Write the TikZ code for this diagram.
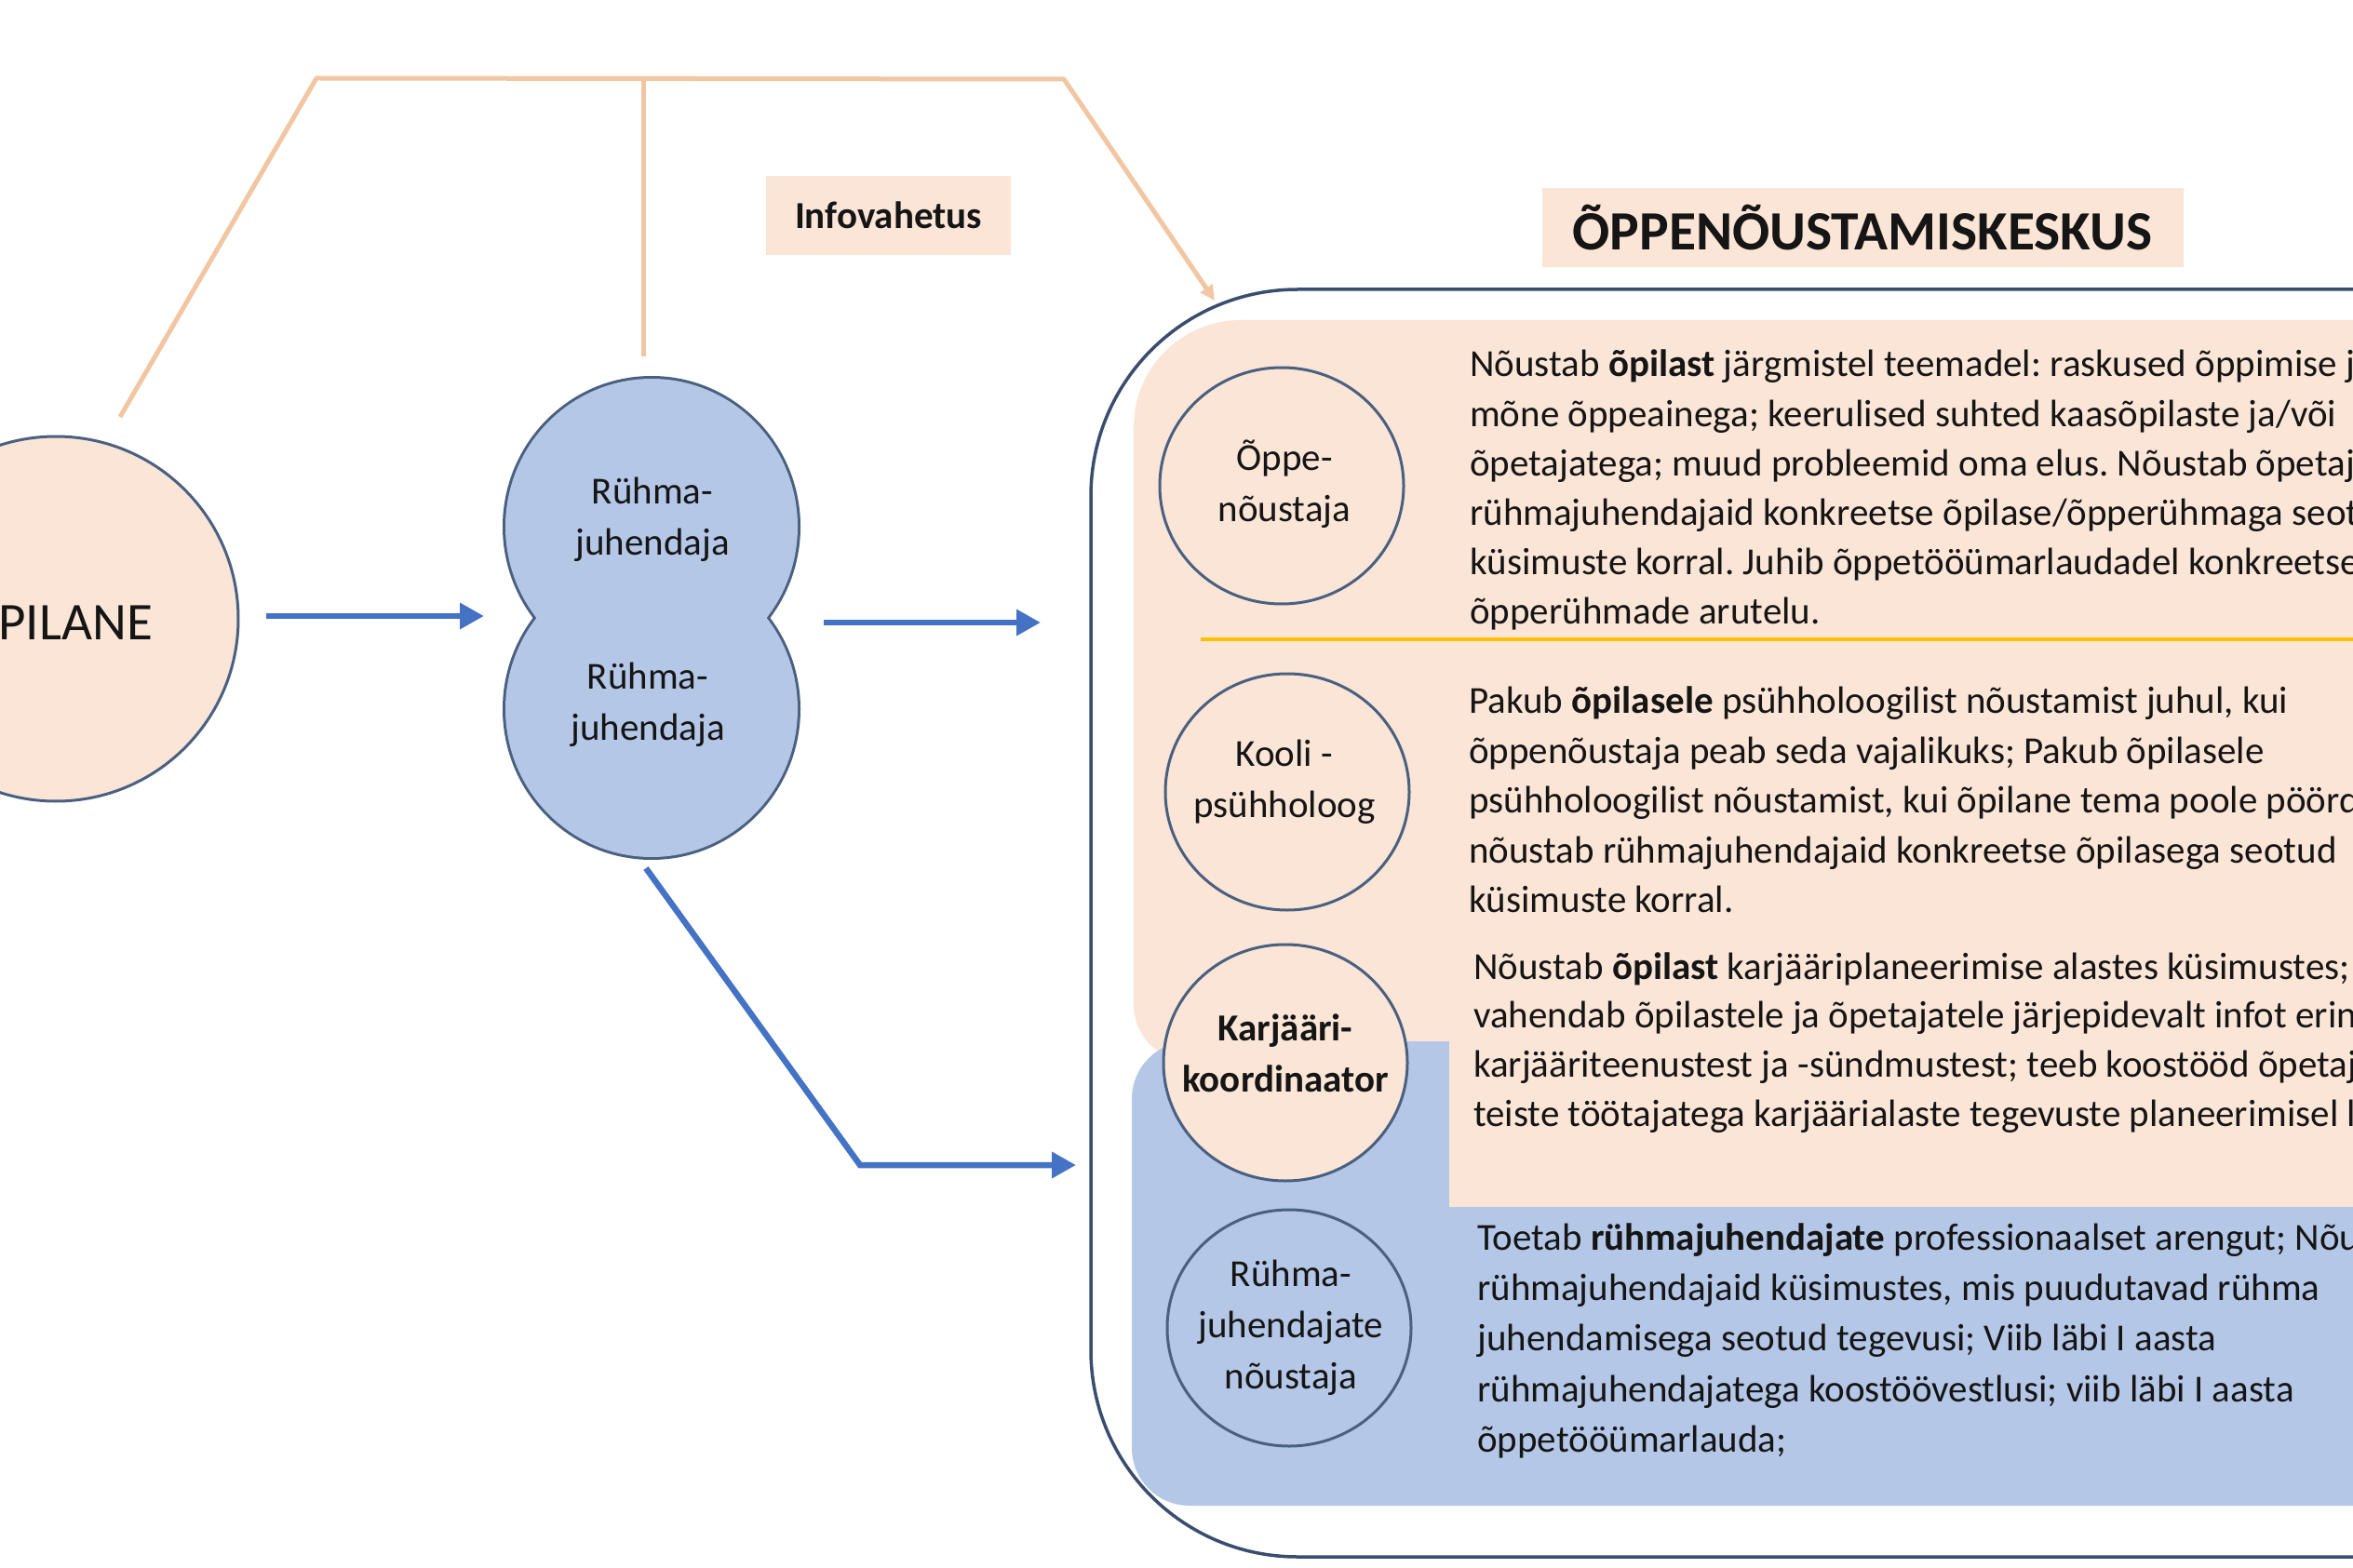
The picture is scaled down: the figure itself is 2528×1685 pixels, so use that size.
\documentclass[tikz,border=0pt]{standalone}
\usepackage{fontspec}
\setmainfont{Carlito}
\usetikzlibrary{shapes.geometric,arrows.meta}
\definecolor{tanfill}{HTML}{FBE5D6}
\definecolor{bluefill}{HTML}{B4C7E7}
\definecolor{outl}{HTML}{4A6080}
\definecolor{bigoutl}{HTML}{3A4D6E}
\definecolor{arrowblue}{HTML}{4472C4}
\definecolor{tanline}{HTML}{F2C6A2}
\definecolor{goldline}{HTML}{FFC000}
\definecolor{txt}{HTML}{151515}
\newcommand\myBody{\fontsize{41}{55}\selectfont}
\newcommand\myHead{\fontsize{59.5}{70}\selectfont\bfseries}
\newcommand\myPil{\fontsize{57}{68}\selectfont}
\frenchspacing
\begin{document}
\begin{tikzpicture}[x=1pt,y=-1pt,
  bluearrow/.style={draw=arrowblue, line width=6.5pt, -{Triangle[length=26pt,width=27pt]}},
  tanconn/.style={draw=tanline, line width=5pt},
  roundnode/.style={ellipse, draw=outl, line width=3pt, minimum width=262pt, minimum height=254pt, inner sep=0pt},
  circtext/.style={align=center, font=\myBody, text=txt, inner sep=0pt},
  rjout/.style={ellipse, draw=outl, line width=6pt, minimum width=314pt, minimum height=318pt, inner sep=0pt},
  rjfill/.style={ellipse, fill=bluefill, minimum width=314pt, minimum height=318pt, inner sep=0pt},
  bodyline/.style={anchor=base west, inner sep=0pt, font=\myBody, text=txt},
  tagbox/.style={rectangle, fill=tanfill, inner sep=0pt, text=txt}
]
\useasboundingbox (0,0) rectangle (2528,1685);
\clip (0,0) rectangle (2528,1685);
\fill[white] (0,0) rectangle (2528,1685);

% ---------- right panel backgrounds ----------
\fill[tanfill, rounded corners=115pt] (1218,344) rectangle (2700,900);
\fill[tanfill, rounded corners=60pt] (1218,700) rectangle (2700,1140);
\fill[bluefill, rounded corners=62pt] (1216,1119) rectangle (2700,1618);
\fill[tanfill] (1557,1000) rectangle (2700,1297);
\coordinate (ylS) at (1290,687);
\coordinate (ylE) at (2700,687);
\draw[goldline, line width=3.5pt] (ylS) -- (ylE);
\draw[bigoutl, line width=3.5pt, rounded corners=222pt] (2700,311) -- (1172,311) -- (1172,1673) -- (2700,1673);

% ---------- header boxes ----------
\node[tagbox, minimum width=689pt, minimum height=85pt, font=\myHead] (head) at (2001,244.5) {ÕPPENÕUSTAMISKESKUS};
\node[tagbox, minimum width=263pt, minimum height=85pt, font=\myBody\bfseries] (info) at (954.5,231.5) {Infovahetus};

% ---------- PILANE ----------
\node[circle, fill=tanfill, draw=outl, line width=3pt, minimum size=392pt, inner sep=0pt] (pil) at (60,665) {};
\node[anchor=base east, inner sep=0pt, font=\myPil, text=txt] (piltext) at (164,687) {ÕPILANE};

% ---------- Ruhmajuhendaja pair ----------
\node[rjout] (rj1o) at (700,566) {};
\node[rjout] (rj2o) at (700,762) {};
\node[rjfill] (rj1) at (700,566) {};
\node[rjfill] (rj2) at (700,762) {};
\node[circtext] (rj1t) at (701,558) {Rühma-\\juhendaja};
\node[circtext] (rj2t) at (696,757) {Rühma-\\juhendaja};

% ---------- circles in right panel ----------
\node[roundnode, fill=tanfill] (opn) at (1377,522) {};
\node[roundnode, fill=tanfill] (psy) at (1383,851) {};
\node[roundnode, fill=tanfill] (kar) at (1381,1142) {};
\node[roundnode, fill=bluefill] (rjn) at (1385,1427) {};
\node[circtext] (opnt) at (1380,520) {Õppe-\\nõustaja};
\node[circtext] (psyt) at (1380,840) {Kooli -\\psühholoog};
\node[circtext, font=\myBody\bfseries] (kart) at (1381,1132) {Karjääri-\\koordinaator};
\node[circtext] (rjnt) at (1387,1427) {Rühma-\\juhendajate\\nõustaja};

% ---------- body texts ----------
\node[bodyline] (t1a) at (1579,405) {Nõustab \textbf{õpilast} järgmistel teemadel: raskused õppimise ja};
\node[bodyline] (t1b) at (1579,458) {mõne õppeainega; keerulised suhted kaasõpilaste ja/või};
\node[bodyline] (t1c) at (1579,511) {õpetajatega; muud probleemid oma elus. Nõustab õpetajaid ja};
\node[bodyline] (t1d) at (1579,564) {rühmajuhendajaid konkreetse õpilase/õpperühmaga seotud};
\node[bodyline] (t1e) at (1579,617) {küsimuste korral. Juhib õppetööümarlaudadel konkreetse};
\node[bodyline] (t1f) at (1579,670) {õpperühmade arutelu.};

\node[bodyline] (t2a) at (1578,766) {Pakub \textbf{õpilasele} psühholoogilist nõustamist juhul, kui};
\node[bodyline] (t2b) at (1578,820) {õppenõustaja peab seda vajalikuks; Pakub õpilasele};
\node[bodyline] (t2c) at (1578,873) {psühholoogilist nõustamist, kui õpilane tema poole pöördub;};
\node[bodyline] (t2d) at (1578,927) {nõustab rühmajuhendajaid konkreetse õpilasega seotud};
\node[bodyline] (t2e) at (1578,980) {küsimuste korral.};

\node[bodyline] (t3a) at (1583,1052) {Nõustab \textbf{õpilast} karjääriplaneerimise alastes küsimustes;};
\node[bodyline] (t3b) at (1583,1104) {vahendab õpilastele ja õpetajatele järjepidevalt infot erinevatest};
\node[bodyline] (t3c) at (1583,1157) {karjääriteenustest ja -sündmustest; teeb koostööd õpetajate ja};
\node[bodyline] (t3d) at (1583,1210) {teiste töötajatega karjäärialaste tegevuste planeerimisel läbiviimisel.};

\node[bodyline] (t4a) at (1587,1343) {Toetab \textbf{rühmajuhendajate} professionaalset arengut; Nõustab};
\node[bodyline] (t4b) at (1587,1397) {rühmajuhendajaid küsimustes, mis puudutavad rühma};
\node[bodyline] (t4c) at (1587,1451) {juhendamisega seotud tegevusi; Viib läbi I aasta};
\node[bodyline] (t4d) at (1587,1506) {rühmajuhendajatega koostöövestlusi; viib läbi I aasta};
\node[bodyline] (t4e) at (1587,1560) {õppetööümarlauda;};

% ---------- blue arrows ----------
\coordinate (a1s) at (286,662);
\coordinate (a1e) at (520,662);
\draw[bluearrow] (a1s) -- (a1e);
\coordinate (a2s) at (885,669);
\coordinate (a2e) at (1118,669);
\draw[bluearrow] (a2s) -- (a2e);
\coordinate (a3s) at (694,933);
\coordinate (a3m) at (924,1252);
\coordinate (a3e) at (1156,1252);
\draw[bluearrow] (a3s) -- (a3m) -- (a3e);

% ---------- tan info-exchange lines ----------
\coordinate (tl1) at (129,448);
\coordinate (tl2) at (340,84);
\coordinate (tl3) at (1143,85);
\coordinate (tl4) at (1305,323);
\coordinate (tm1) at (691,84);
\coordinate (tm2) at (691,383);
\draw[tanconn, line join=round, -{Triangle[length=16pt,width=15pt]}] (tl1) -- (tl2) -- (tl3) -- (tl4);
\draw[tanconn] (tm1) -- (tm2);
\end{tikzpicture}
\end{document}
